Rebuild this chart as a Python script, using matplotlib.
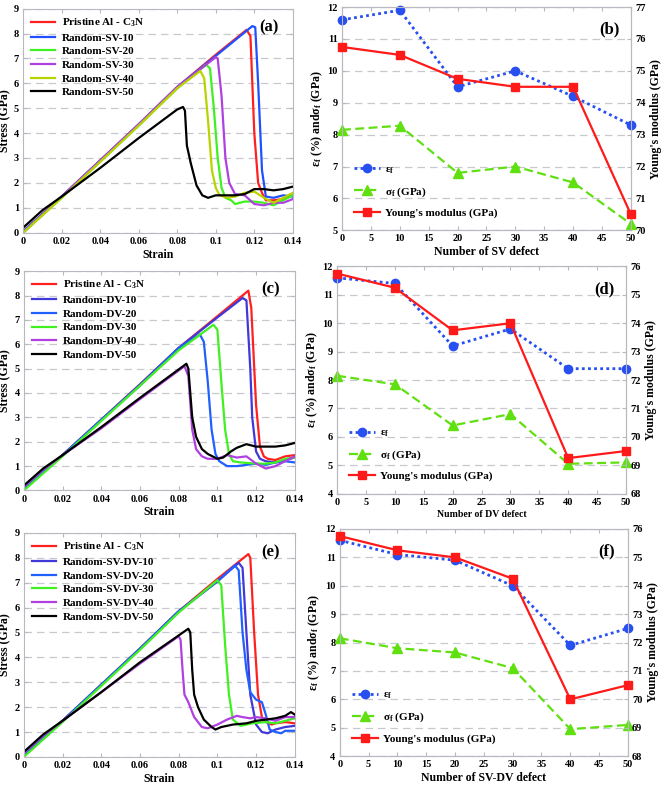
import matplotlib
matplotlib.use("Agg")
import matplotlib.pyplot as plt
from matplotlib.ticker import FuncFormatter, MultipleLocator

plt.rcParams["font.family"] = ["Liberation Serif", "DejaVu Serif"]
plt.rcParams["font.weight"] = "bold"
plt.rcParams["mathtext.fontset"] = "custom"
plt.rcParams["mathtext.rm"] = "Liberation Serif:bold"
plt.rcParams["mathtext.it"] = "Liberation Serif:bold"
plt.rcParams["mathtext.bf"] = "Liberation Serif:bold"

# ---- stress-strain curves (strain, stress) ----
# (a) single vacancies
sv_pristine = [(0, 0.05), (0.02, 1.45), (0.04, 2.9), (0.06, 4.35), (0.08, 5.85), (0.1, 7.15), (0.116, 8.15),
               (0.118, 7.9), (0.12, 4.0), (0.122, 2.0), (0.124, 1.6), (0.126, 1.3), (0.13, 1.3), (0.135, 1.35), (0.14, 1.5)]
sv_10 = [(0, 0.05), (0.02, 1.45), (0.04, 2.9), (0.06, 4.35), (0.08, 5.85), (0.1, 7.1), (0.119, 8.3), (0.1205, 8.25),
         (0.122, 6.0), (0.124, 2.5), (0.126, 1.45), (0.13, 1.4), (0.135, 1.5), (0.14, 1.45)]
sv_20 = [(0, 0.0), (0.02, 1.4), (0.04, 2.85), (0.06, 4.3), (0.08, 5.8), (0.095, 6.75), (0.097, 6.6), (0.099, 5.0),
         (0.101, 3.0), (0.103, 1.8), (0.105, 1.4), (0.108, 1.3), (0.11, 1.15), (0.115, 1.25), (0.12, 1.25),
         (0.125, 1.2), (0.13, 1.1), (0.135, 1.3), (0.14, 1.5)]
sv_30 = [(0, 0.0), (0.02, 1.45), (0.04, 2.9), (0.06, 4.35), (0.08, 5.85), (0.1, 7.05), (0.101, 7.0), (0.103, 5.5),
         (0.105, 3.0), (0.107, 2.0), (0.11, 1.55), (0.115, 1.5), (0.12, 1.15), (0.125, 1.1), (0.13, 1.2),
         (0.135, 1.2), (0.14, 1.35)]
sv_40 = [(0, 0.0), (0.02, 1.4), (0.04, 2.85), (0.06, 4.3), (0.08, 5.8), (0.092, 6.5), (0.094, 6.2), (0.096, 4.5),
         (0.098, 2.5), (0.1, 1.8), (0.102, 1.5), (0.106, 1.4), (0.11, 1.45), (0.115, 1.6), (0.12, 1.65),
         (0.125, 1.4), (0.13, 1.2), (0.135, 1.4), (0.14, 1.6)]
sv_50 = [(0, 0.2), (0.01, 0.9), (0.02, 1.45), (0.04, 2.6), (0.06, 3.8), (0.08, 4.95), (0.083, 5.05), (0.084, 4.9),
         (0.085, 3.5), (0.087, 2.8), (0.09, 1.9), (0.093, 1.5), (0.096, 1.4), (0.1, 1.5), (0.105, 1.5), (0.11, 1.5),
         (0.115, 1.55), (0.12, 1.75), (0.125, 1.75), (0.13, 1.7), (0.135, 1.75), (0.14, 1.85)]

# (c) double vacancies
dv_pristine = [(0, 0.05), (0.02, 1.45), (0.04, 2.9), (0.06, 4.35), (0.08, 5.85), (0.1, 7.15), (0.116, 8.2),
               (0.1175, 7.5), (0.12, 3.5), (0.122, 1.8), (0.124, 1.4), (0.126, 1.3), (0.13, 1.25), (0.135, 1.4),
               (0.14, 1.45)]
dv_10 = [(0, 0.05), (0.02, 1.45), (0.04, 2.9), (0.06, 4.35), (0.08, 5.85), (0.1, 7.1), (0.113, 7.9), (0.115, 7.8),
         (0.117, 5.0), (0.118, 3.0), (0.12, 1.6), (0.122, 1.3), (0.125, 1.2), (0.13, 1.15), (0.135, 1.25), (0.14, 1.35)]
dv_20 = [(0, 0.05), (0.02, 1.45), (0.04, 2.9), (0.06, 4.3), (0.08, 5.85), (0.091, 6.4), (0.093, 6.1), (0.095, 4.5),
         (0.097, 2.5), (0.099, 1.5), (0.101, 1.2), (0.105, 1.0), (0.11, 1.0), (0.115, 1.05), (0.12, 1.1),
         (0.125, 1.05), (0.13, 1.15), (0.135, 1.2), (0.14, 1.15)]
dv_30 = [(0, 0.0), (0.02, 1.4), (0.04, 2.85), (0.06, 4.3), (0.08, 5.75), (0.098, 6.8), (0.1, 6.6), (0.102, 4.5),
         (0.104, 2.5), (0.106, 1.5), (0.108, 1.2), (0.112, 1.15), (0.12, 1.1), (0.125, 1.1), (0.13, 1.15),
         (0.135, 1.3), (0.14, 1.35)]
dv_40 = [(0, 0.15), (0.01, 0.85), (0.02, 1.45), (0.04, 2.55), (0.06, 3.75), (0.083, 5.1), (0.085, 4.7),
         (0.087, 2.5), (0.089, 1.7), (0.092, 1.4), (0.095, 1.3), (0.1, 1.3), (0.105, 1.45), (0.11, 1.35),
         (0.115, 1.4), (0.12, 1.1), (0.125, 0.9), (0.13, 1.0), (0.135, 1.2), (0.14, 1.4)]
dv_50 = [(0, 0.2), (0.01, 0.9), (0.02, 1.45), (0.04, 2.6), (0.06, 3.8), (0.084, 5.2), (0.085, 5.0), (0.087, 3.0),
         (0.089, 2.2), (0.092, 1.7), (0.095, 1.5), (0.1, 1.3), (0.103, 1.35), (0.107, 1.6), (0.11, 1.75),
         (0.115, 1.9), (0.12, 1.8), (0.125, 1.8), (0.13, 1.8), (0.135, 1.85), (0.14, 1.95)]

# (e) mixed vacancies
svdv_pristine = [(0, 0.05), (0.02, 1.45), (0.04, 2.9), (0.06, 4.35), (0.08, 5.85), (0.1, 7.15), (0.116, 8.15),
                 (0.117, 8.0), (0.119, 5.0), (0.121, 2.5), (0.123, 1.6), (0.125, 1.4), (0.128, 1.3), (0.13, 1.35),
                 (0.135, 1.4), (0.14, 1.35)]
svdv_10 = [(0, 0.05), (0.02, 1.45), (0.04, 2.9), (0.06, 4.35), (0.08, 5.85), (0.1, 7.05), (0.111, 7.8),
           (0.113, 7.6), (0.115, 5.0), (0.117, 2.5), (0.12, 1.3), (0.123, 1.0), (0.126, 0.95), (0.13, 1.1),
           (0.135, 1.2), (0.14, 1.25)]
svdv_20 = [(0, 0.05), (0.02, 1.45), (0.04, 2.9), (0.06, 4.35), (0.08, 5.85), (0.1, 7.05), (0.109, 7.7),
           (0.111, 7.5), (0.113, 5.0), (0.115, 3.5), (0.117, 2.6), (0.12, 2.3), (0.123, 2.2), (0.125, 1.7),
           (0.127, 1.1), (0.13, 1.0), (0.133, 0.95), (0.135, 1.05), (0.14, 1.05)]
svdv_30 = [(0, 0.0), (0.02, 1.4), (0.04, 2.85), (0.06, 4.3), (0.08, 5.8), (0.1, 7.1), (0.102, 6.9), (0.104, 4.5),
           (0.106, 2.5), (0.108, 1.5), (0.112, 1.25), (0.118, 1.35), (0.125, 1.4), (0.13, 1.35), (0.135, 1.45),
           (0.14, 1.55)]
svdv_40 = [(0, 0.15), (0.01, 0.85), (0.02, 1.45), (0.04, 2.6), (0.06, 3.75), (0.08, 4.85), (0.081, 4.7),
           (0.082, 3.5), (0.083, 2.5), (0.085, 2.2), (0.088, 1.6), (0.092, 1.2), (0.095, 1.15), (0.1, 1.3),
           (0.105, 1.5), (0.11, 1.65), (0.113, 1.6), (0.117, 1.55), (0.12, 1.6), (0.125, 1.55), (0.13, 1.45),
           (0.135, 1.6), (0.14, 1.6)]
svdv_50 = [(0, 0.2), (0.01, 0.9), (0.02, 1.45), (0.04, 2.6), (0.06, 3.8), (0.085, 5.15), (0.086, 5.0),
           (0.087, 3.5), (0.088, 2.5), (0.09, 2.0), (0.093, 1.5), (0.097, 1.2), (0.099, 1.1), (0.102, 1.2),
           (0.108, 1.3), (0.115, 1.35), (0.12, 1.45), (0.125, 1.5), (0.13, 1.55), (0.135, 1.65), (0.138, 1.8),
           (0.14, 1.7)]

labels_sv = ["Pristine Al - C$_3$N", "Random-SV-10", "Random-SV-20", "Random-SV-30", "Random-SV-40", "Random-SV-50"]
labels_dv = ["Pristine Al - C$_3$N", "Random-DV-10", "Random-DV-20", "Random-DV-30", "Random-DV-40", "Random-DV-50"]
labels_svdv = ["Pristine Al - C$_3$N", "Random-SV-DV-10", "Random-SV-DV-20", "Random-SV-DV-30",
               "Random-SV-DV-40", "Random-SV-DV-50"]

# ---- fracture properties vs number of defects ----
n_defect = [0, 10, 20, 30, 40, 50]
eps_sv = [11.6, 11.9, 9.5, 10.0, 9.2, 8.3]
sig_sv = [8.15, 8.28, 6.8, 7.0, 6.5, 5.2]
ym_sv = [75.75, 75.5, 74.75, 74.5, 74.5, 70.5]
eps_dv = [11.6, 11.4, 9.2, 9.8, 8.4, 8.4]
sig_dv = [8.15, 7.85, 6.4, 6.8, 5.05, 5.1]
ym_dv = [75.75, 75.25, 73.75, 74.0, 69.25, 69.5]
eps_svdv = [11.6, 11.1, 10.9, 10.0, 7.9, 8.5]
sig_svdv = [8.15, 7.8, 7.65, 7.1, 4.95, 5.1]
ym_svdv = [75.75, 75.25, 75.0, 74.25, 70.0, 70.5]

SPINE = "#b8b8c0"
GRID = "#c8c8d0"


def style_axes(ax):
    for s in ax.spines.values():
        s.set_color(SPINE)
    ax.tick_params(direction="in", color=SPINE, length=3, labelsize=7.5, pad=3)
    ax.yaxis.grid(True, color=GRID, linestyle=(0, (6, 4)), linewidth=0.9)
    ax.set_axisbelow(True)


def stress_panel(rect, curves, labels, colors, tag):
    ax = fig.add_axes(rect)
    for pts, lab, c in zip(curves, labels, colors):
        ax.plot([p[0] for p in pts], [p[1] for p in pts], color=c, lw=1.6, label=lab)
    ax.set_xlim(0, 0.14)
    ax.set_ylim(0, 9)
    ax.xaxis.set_major_locator(MultipleLocator(0.02))
    ax.yaxis.set_major_locator(MultipleLocator(1))
    ax.xaxis.set_major_formatter(FuncFormatter(lambda v, p: "%g" % round(v, 3)))
    ax.tick_params(top=True, right=True)
    style_axes(ax)
    ax.set_xlabel("Strain", fontsize=8.5, fontweight="bold", labelpad=2)
    ax.set_ylabel("Stress (GPa)", fontsize=8.5, fontweight="bold")
    ax.yaxis.set_label_coords(-0.045, 0.5)
    ax.legend(loc="upper left", bbox_to_anchor=(0.0, 1.0), frameon=False, fontsize=8,
              handlelength=2.2, labelspacing=0.35, borderaxespad=0.3, handletextpad=0.6)
    ax.text(0.91, 0.915, tag, transform=ax.transAxes, fontsize=12, fontweight="bold", ha="center", va="center")
    return ax


def property_panel(rect, eps, sig, ym, ylim_l, ylim_r, xlabel, tag, xlabel_size=8.5):
    ax = fig.add_axes(rect)
    ax2 = ax.twinx()
    l1, = ax.plot(n_defect, eps, color="#2850f0", ls=(0, (1, 1.2)), lw=2.0, marker="o", ms=6,
                  label="ε$_f$", clip_on=False, zorder=3)
    l2, = ax.plot(n_defect, sig, color="#60e010", ls=(0, (4, 2)), lw=1.6, marker="^", ms=7,
                  label="σ$_f$ (GPa)", clip_on=False, zorder=3)
    l3, = ax2.plot(n_defect, ym, color="#ff1a1a", lw=1.6, marker="s", ms=5.5,
                   label="Young's modulus (GPa)", clip_on=False, zorder=3)
    ax.set_xlim(0, 50)
    ax.set_ylim(*ylim_l)
    ax2.set_ylim(*ylim_r)
    ax.xaxis.set_major_locator(MultipleLocator(5))
    ax.yaxis.set_major_locator(MultipleLocator(1))
    ax2.yaxis.set_major_locator(MultipleLocator(1))
    ax.tick_params(top=True)
    style_axes(ax)
    for s in ax2.spines.values():
        s.set_color(SPINE)
    ax2.tick_params(direction="in", color=SPINE, length=3, labelsize=7.5, pad=3)
    ax.set_xlabel(xlabel, fontsize=xlabel_size, fontweight="bold", labelpad=2)
    ax.set_ylabel("ε$_f$ (%) andσ$_f$ (GPa)", fontsize=8.5, fontweight="bold", labelpad=2)
    ax2.set_ylabel("Young's modulus (GPa)", fontsize=8.5, fontweight="bold", labelpad=3)
    ax.legend(handles=[l1, l2, l3], loc="lower left", frameon=False, fontsize=8,
              handlelength=2.3, labelspacing=0.85, borderaxespad=0.7, handletextpad=0.5)
    ax.text(0.925, 0.9, tag, transform=ax.transAxes, fontsize=12, fontweight="bold", ha="center", va="center")
    return ax


fig = plt.figure(figsize=(6.61, 7.86), dpi=100)

colors_sv = ["#ff2020", "#2050ff", "#40f020", "#b040e0", "#b8d400", "#000000"]
colors_dv = ["#ff2020", "#4038d8", "#2060ff", "#40f020", "#b040e0", "#000000"]

stress_panel([0.035, 0.704, 0.408, 0.285], [sv_pristine, sv_10, sv_20, sv_30, sv_40, sv_50],
             labels_sv, colors_sv, "(a)")
stress_panel([0.036, 0.376, 0.41, 0.279], [dv_pristine, dv_10, dv_20, dv_30, dv_40, dv_50],
             labels_dv, colors_dv, "(c)")
stress_panel([0.036, 0.037, 0.41, 0.285], [svdv_pristine, svdv_10, svdv_20, svdv_30, svdv_40, svdv_50],
             labels_svdv, colors_dv, "(e)")

property_panel([0.5174, 0.707, 0.437, 0.284], eps_sv, sig_sv, ym_sv, (5, 12), (70, 77),
               "Number of SV defect", "(b)")
property_panel([0.51, 0.372, 0.437, 0.289], eps_dv, sig_dv, ym_dv, (4, 12), (68, 76),
               "Number of DV defect", "(d)", xlabel_size=7)
property_panel([0.514, 0.038, 0.436, 0.289], eps_svdv, sig_svdv, ym_svdv, (4, 12), (68, 76),
               "Number of SV-DV defect", "(f)")

fig.savefig("out.png", dpi=100)
